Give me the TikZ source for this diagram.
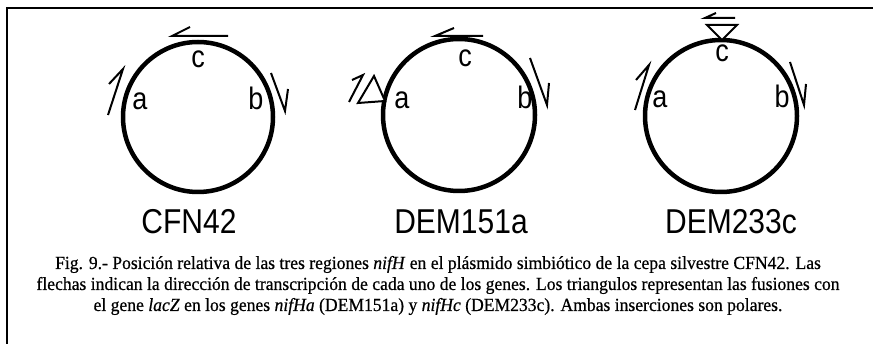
\documentclass[tikz,border=0pt]{standalone}
\usepackage{fontspec}
\setmainfont{Liberation Serif}
\newfontfamily\lsans{Liberation Sans}
\newfontfamily\capfont[FakeBold=0.6]{Liberation Serif}
\begin{document}
\begin{tikzpicture}[x=1pt,y=-1pt,
  ring/.style={line width=4.5pt},
  harp/.style={line width=2pt, line join=miter, line cap=butt},
  tri/.style={line width=2pt, fill=white, line join=miter},
  frame/.style={line width=1.5pt},
  lbl/.style={font=\lsans\fontsize{27}{27}\selectfont, inner sep=0pt, anchor=base},
  strain/.style={font=\lsans\fontsize{30}{30}\selectfont, inner sep=0pt, anchor=base},
  captxt/.style={font=\capfont\fontsize{17.6}{20}\selectfont, inner sep=0pt, anchor=base}]
\useasboundingbox (0,0) rectangle (873,344);
% frame
\draw[frame] (7,344) -- (7,8) -- (873,8);
% circle 1
\draw[ring] (198,117) circle[radius=75];
\draw[harp] (190,27) -- (172,36) -- (228,36);
\draw[harp] (109,84) -- (123,69) -- (108,115);
\draw[harp] (288,89) -- (285,111) -- (271,73);
\node[lbl] (c1) at (198,68) {\scalebox{1}[1.15]{c}};
\node[lbl] (a1) at (140,110) {\scalebox{1}[1.15]{a}};
\node[lbl] (b1) at (256,110) {\scalebox{1}[1.15]{b}};
\node[strain] (n1) at (189,234) {\scalebox{1}[1.15]{CFN42}};
% circle 2
\draw[ring] (459,115) circle[radius=76];
\draw[harp] (454,28) -- (435,36) -- (483,36);
\draw[harp] (352,80) -- (363,75) -- (349,102);
\draw[tri] (358,103) -- (374,76) -- (385,101) -- cycle;
\draw[harp] (549,83) -- (547,105) -- (530,58);
\node[lbl] (c2) at (465,67) {\scalebox{1}[1.15]{c}};
\node[lbl] (a2) at (402,109) {\scalebox{1}[1.15]{a}};
\node[lbl] (b2) at (525,109) {\scalebox{1}[1.15]{b}};
\node[strain] (n2) at (461,234) {\scalebox{1}[1.15]{DEM151a}};
% circle 3
\draw[ring] (721,116) circle[radius=76];
\draw[tri] (707,25) -- (737,25) -- (722,40) -- cycle;
\draw[harp] (716,13) -- (705,18) -- (735,18);
\draw[harp] (636,80) -- (649,65) -- (635,110);
\draw[harp] (806,84) -- (804,105) -- (790,62);
\node[lbl] (c3) at (722,62) {\scalebox{1}[1.15]{c}};
\node[lbl] (a3) at (660,108) {\scalebox{1}[1.15]{a}};
\node[lbl] (b3) at (782,108) {\scalebox{1}[1.15]{b}};
\node[strain] (n3) at (731,234) {\scalebox{1}[1.15]{DEM233c}};
% caption
\node[captxt] (l1) at (438,269) {\scalebox{1}[1.05]{Fig. 9.- Posición relativa de las tres regiones \textit{nifH} en el plásmido simbiótico de la cepa silvestre CFN42. Las}};
\node[captxt] (l2) at (438,290) {\scalebox{1}[1.05]{flechas indican la dirección de transcripción de cada uno de los genes. Los triangulos representan las fusiones con}};
\node[captxt] (l3) at (438,311) {\scalebox{1}[1.05]{el gene \textit{lacZ} en los genes \textit{nifHa} (DEM151a) y \textit{nifHc} (DEM233c). Ambas inserciones son polares.}};
\end{tikzpicture}
\end{document}
